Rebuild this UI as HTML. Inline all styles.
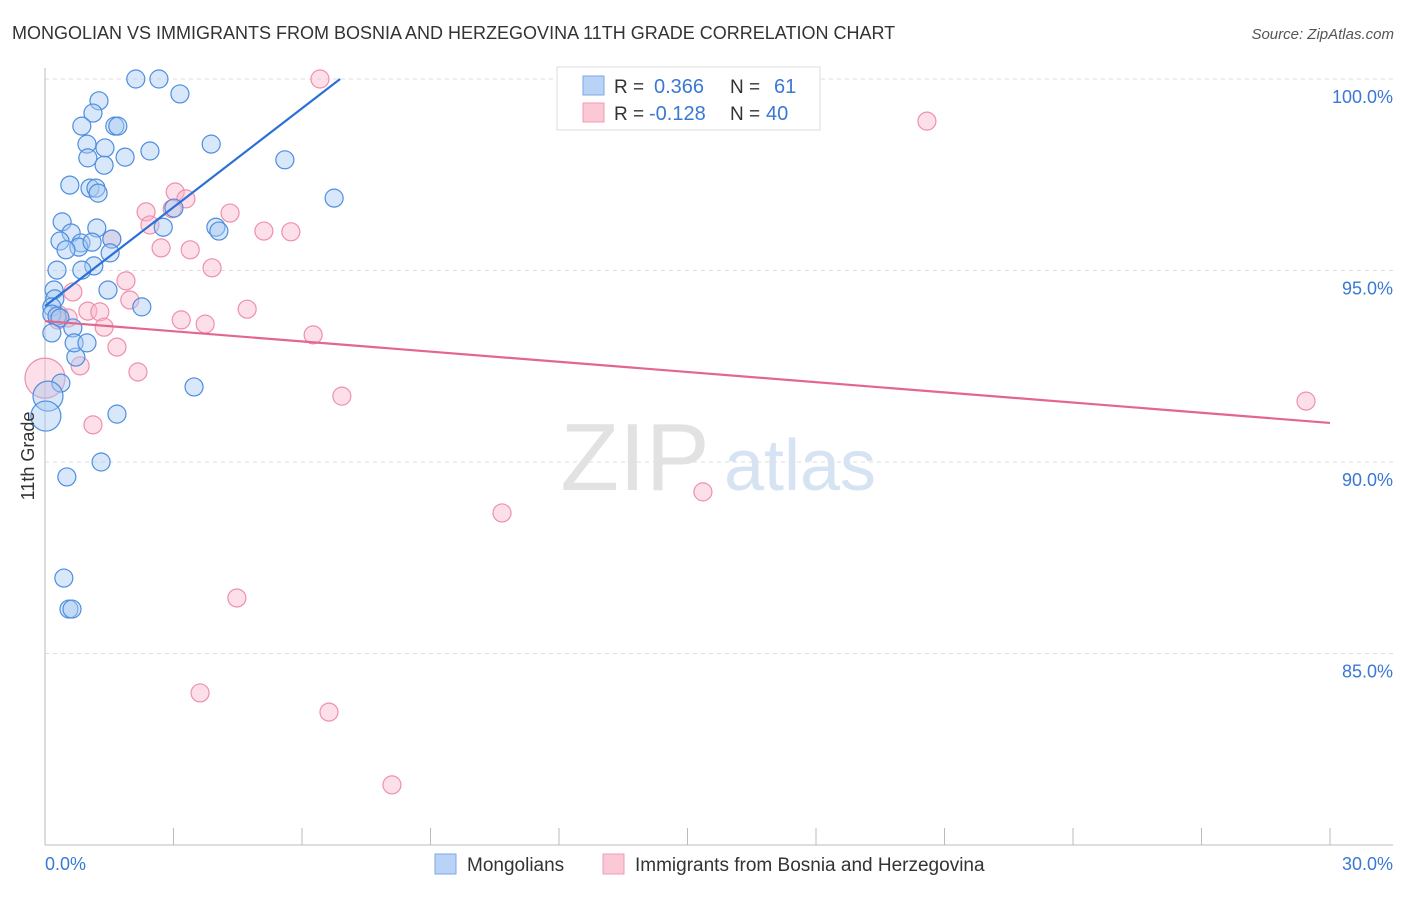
<!DOCTYPE html>
<html><head><meta charset="utf-8"><style>
body{margin:0;background:#fff;font-family:"Liberation Sans",sans-serif;}
svg text{font-family:"Liberation Sans",sans-serif;}
</style></head><body>
<svg id="chart" width="1406" height="892" viewBox="0 0 1406 892" xmlns="http://www.w3.org/2000/svg">
<text x="12" y="39" font-size="18" fill="#333">MONGOLIAN VS IMMIGRANTS FROM BOSNIA AND HERZEGOVINA 11TH GRADE CORRELATION CHART</text>
<text x="1394" y="39" font-size="15" fill="#555" text-anchor="end" font-style="italic">Source: ZipAtlas.com</text>
<g id="grid"></g>
<g>
<text x="635" y="490" font-size="96" fill="#e2e2e2" text-anchor="middle" font-family="Liberation Serif">ZIP</text>
<text x="800" y="490" font-size="72" fill="#d6e3f3" text-anchor="middle">atlas</text>
</g>
<g id="axes"></g>
<g id="pts"></g>
<g id="trends"></g>
<text transform="translate(34,456) rotate(-90)" font-size="18" fill="#333" text-anchor="middle">11th Grade</text>
<g>
<rect x="557" y="67" width="263" height="63" fill="#fff" stroke="#ddd"/>
<rect x="583" y="76" width="21" height="19" fill="#b8d3f5" stroke="#7aa9e6"/>
<rect x="583" y="103" width="21" height="19" fill="#fbc8d6" stroke="#f29ab3"/>
<text x="614" y="93" font-size="19" fill="#333">R =</text>
<text x="654" y="93" font-size="20" fill="#3a78d4">0.366</text>
<text x="730" y="93" font-size="19" fill="#333">N =</text>
<text x="774" y="93" font-size="20" fill="#3a78d4">61</text>
<text x="614" y="120" font-size="19" fill="#333">R =</text>
<text x="649" y="120" font-size="20" fill="#3a78d4">-0.128</text>
<text x="730" y="120" font-size="19" fill="#333">N =</text>
<text x="766" y="120" font-size="20" fill="#3a78d4">40</text>
</g>
<g>
<rect x="435" y="854" width="21" height="20" fill="#b8d3f5" stroke="#7aa9e6"/>
<text x="467" y="871" font-size="19" fill="#333">Mongolians</text>
<rect x="603" y="854" width="21" height="20" fill="#fbc8d6" stroke="#f29ab3"/>
<text x="635" y="871" font-size="19" fill="#333">Immigrants from Bosnia and Herzegovina</text>
</g>
</svg>
<script>
const blueX=[2.12,2.66,3.15,1.26,1.12,0.86,1.63,1.70,0.98,1.40,1.00,1.87,1.38,2.45,3.88,5.60,0.58,1.05,1.19,1.24,6.75,3.01,0.40,1.21,0.61,2.76,3.99,4.06,0.35,0.84,0.79,1.10,1.56,0.49,1.52,1.14,0.28,0.86,0.21,1.47,0.23,2.26,0.16,0.16,0.28,0.35,0.65,0.16,0.72,0.68,0.98,0.37,0.07,3.48,1.68,0.02,1.31,0.51,0.44,0.56,0.63];
const blueY=[100,100,99.61,99.43,99.11,98.77,98.77,98.77,98.30,98.20,97.94,97.96,97.75,98.12,98.30,97.89,97.23,97.15,97.15,97.02,96.89,96.63,96.27,96.11,95.98,96.13,96.13,96.03,95.77,95.72,95.61,95.74,95.82,95.54,95.46,95.12,95.01,95.01,94.49,94.49,94.26,94.05,94.05,93.86,93.81,93.76,93.50,93.37,92.74,93.11,93.11,92.06,91.72,91.96,91.25,91.20,90.00,89.61,86.97,86.16,86.16];
const pinkX=[6.42,20.59,3.04,3.29,2.36,2.97,4.32,2.45,5.11,5.74,1.56,2.71,3.39,3.90,1.89,0.65,1.98,0.33,0.54,1.00,1.28,4.72,3.18,3.74,1.38,6.26,1.68,0.82,2.17,0,6.93,1.12,29.44,15.36,10.67,4.48,3.62,6.63,8.10,0.30];
const pinkY=[100,98.90,97.05,96.87,96.53,96.61,96.50,96.19,96.03,96.01,95.82,95.59,95.54,95.07,94.73,94.44,94.23,93.84,93.76,93.94,93.92,93.99,93.71,93.60,93.52,93.32,93.00,92.51,92.35,92.19,91.72,90.97,91.59,89.22,88.67,86.45,83.97,83.47,81.57,93.71];
const blueTrendX=[0,6.89], blueTrendY=[94.07,100];
const pinkTrendX=[0,30], pinkTrendY=[93.68,91.02];
const yTicks=[100,95,90,85];
const yTickLabels=["100.0%","95.0%","90.0%","85.0%"];
const xTicks=[0,3,6,9,12,15,18,21,24,27,30];
const NS="http://www.w3.org/2000/svg";
const X0=45,X1=1330,Y100=79,PXPCT=38.3;
const sx=v=>X0+(v/30)*(X1-X0);
const sy=v=>Y100+(100-v)*PXPCT;
function mk(tag,attrs,parent){const e=document.createElementNS(NS,tag);for(const k in attrs)e.setAttribute(k,attrs[k]);parent.appendChild(e);return e;}
const grid=document.getElementById('grid'),axes=document.getElementById('axes'),pts=document.getElementById('pts'),tr=document.getElementById('trends');
yTicks.forEach((t,i)=>{
 const l=mk('line',{x1:X0,x2:1393,y1:sy(t),y2:sy(t),stroke:'#ddd','stroke-dasharray':'4,4'},grid);
 
 
 const tx=mk('text',{x:1393,y:sy(t)+24,'font-size':18,fill:'#3a78d4','text-anchor':'end'},axes);
 tx.textContent=yTickLabels[i];
 
 
});
const ya=mk('line',{x1:X0,x2:X0,y1:68,y2:845,stroke:'#bbb'},axes);


const xa=mk('line',{x1:X0,x2:1393,y1:845,y2:845,stroke:'#bbb'},axes);


xTicks.forEach(t=>{
 const l=mk('line',{x1:sx(t),x2:sx(t),y1:828,y2:845,stroke:'#bbb'},axes);
 
 
});
const xl0=mk('text',{x:45,y:870,'font-size':18,fill:'#3a78d4'},axes);xl0.textContent='0.0%';


const xl1=mk('text',{x:1393,y:870,'font-size':18,fill:'#3a78d4','text-anchor':'end'},axes);xl1.textContent='30.0%';


function dots(xs,ys,fill,stroke,name){
 xs.forEach((x,i)=>{
  let r=9;
  if(x<0.1&&name==='mongolian-point')r=15;
  if(x===0&&name==='bosnia-point')r=20;
  const c=mk('circle',{cx:sx(x),cy:sy(ys[i]),r:r,fill:fill,'fill-opacity':0.45,stroke:stroke,'stroke-width':1.2},pts);
  
  
 });
}
dots(pinkX,pinkY,'#f8b9cb','#ee90ab','bosnia-point');
dots(blueX,blueY,'#a9c9f2','#4d8ee0','mongolian-point');
const bl=mk('line',{x1:sx(blueTrendX[0]),y1:sy(blueTrendY[0]),x2:sx(blueTrendX[1]),y2:sy(blueTrendY[1]),stroke:'#2a70d8','stroke-width':2.2},tr);


const pl=mk('line',{x1:sx(pinkTrendX[0]),y1:sy(pinkTrendY[0]),x2:sx(pinkTrendX[1]),y2:sy(pinkTrendY[1]),stroke:'#e4668f','stroke-width':2.2},tr);


</script>
</body></html>
